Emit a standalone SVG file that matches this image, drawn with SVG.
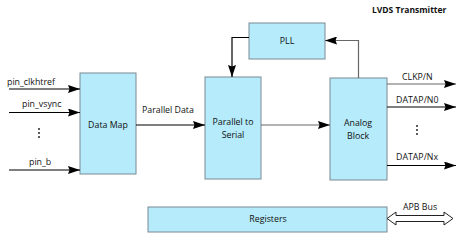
<svg xmlns="http://www.w3.org/2000/svg" width="458" height="233" viewBox="0 0 458 233">
<style>
.box{fill:#b5ebfa;stroke:#7a8a94;stroke-width:1}
.t{font-family:"Open Sans","Noto Sans",sans-serif;font-size:8.8px;fill:#111}
.c{text-anchor:middle}
.ln{fill:none;stroke:#000;stroke-width:1.2}
.g{stroke:#666}
.dot{fill:#111}
</style>
<defs>
<marker id="ah" viewBox="0 0 12 8" refX="12" refY="4" markerWidth="12" markerHeight="8" markerUnits="userSpaceOnUse" orient="auto">
<path d="M0,0 L12,4 L0,8 L1.5,4 Z" fill="#000"/>
</marker>
</defs>
<rect width="458" height="233" fill="#fff"/>
<text class="t" x="372" y="13" style="font-weight:bold;font-size:8.5px">LVDS Transmitter</text>

<g id="datamap"><rect class="box" x="80" y="73" width="56" height="101"/><text class="t c" x="108" y="128">Data Map</text></g>
<g id="p2s"><rect class="box" x="205" y="77" width="56" height="102"/><text class="t c" x="233" y="125">Parallel to</text><text class="t c" x="233" y="138">Serial</text></g>
<g id="analog"><rect class="box" x="330" y="78" width="57" height="102"/><text class="t c" x="358" y="126">Analog</text><text class="t c" x="358" y="139">Block</text></g>
<g id="pll"><rect class="box" x="249" y="23" width="76" height="36"/><text class="t c" x="287" y="44">PLL</text></g>
<g id="registers"><rect class="box" x="148" y="207" width="239" height="25"/><text class="t c" x="268" y="222">Registers</text></g>

<g id="connectors">
<line class="ln" x1="9" y1="89" x2="80" y2="89" marker-end="url(#ah)"/>
<line class="ln" x1="9" y1="112.5" x2="80" y2="112.5" marker-end="url(#ah)"/>
<line class="ln" x1="9" y1="170" x2="80" y2="170" marker-end="url(#ah)"/>
<line class="ln" x1="136" y1="125" x2="205" y2="125" marker-end="url(#ah)"/>
<line class="ln g" x1="261" y1="125" x2="330" y2="125" marker-end="url(#ah)"/>
<polyline class="ln" points="249,37.5 232,37.5 232,77" marker-end="url(#ah)"/>
<polyline class="ln g" points="358.5,78 358.5,40.5 325,40.5" marker-end="url(#ah)"/>
<line class="ln g" x1="387" y1="84" x2="456" y2="84" marker-end="url(#ah)"/>
<line class="ln" x1="387" y1="107" x2="456" y2="107" marker-end="url(#ah)"/>
<line class="ln" x1="387" y1="165.5" x2="456" y2="165.5" marker-end="url(#ah)"/>
<path d="M387,218.5 L396,212 L396,215.5 L444,215.5 L444,212 L453,218.5 L444,225 L444,221.5 L396,221.5 L396,225 Z" fill="#fff" stroke="#222" stroke-width="1"/>
</g>

<text class="t" x="7" y="85">pin_clkhtref</text>
<text class="t" x="22" y="107">pin_vsync</text>
<text class="t" x="29" y="165">pin_b</text>
<g class="dot"><circle cx="39" cy="129" r="0.9"/><circle cx="39" cy="133" r="0.9"/><circle cx="39" cy="137" r="0.9"/></g>
<text class="t" x="142" y="113">Parallel Data</text>
<text class="t" x="402" y="80">CLKP/N</text>
<text class="t" x="396" y="103">DATAP/N0</text>
<g class="dot"><circle cx="417" cy="126" r="0.9"/><circle cx="417" cy="130" r="0.9"/><circle cx="417" cy="134" r="0.9"/></g>
<text class="t" x="396" y="160">DATAP/Nx</text>
<text class="t" x="403" y="210">APB Bus</text>
</svg>
